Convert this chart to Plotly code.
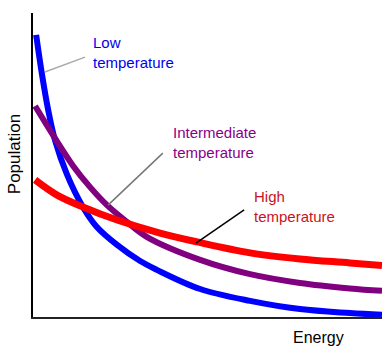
import plotly.graph_objects as go

# Data (arbitrary units; energy on x, population on y)
low_x = [0.09, 0.26, 0.43, 0.63, 0.97, 1.43, 1.83, 2.41, 3.07, 3.55, 4.79, 6.22, 7.65, 9.08, 10.0]
low_y = [9.28, 7.96, 6.84, 5.82, 4.70, 3.62, 2.96, 2.37, 1.84, 1.55, 0.92, 0.53, 0.26, 0.13, 0.07]

mid_x = [0.06, 0.57, 1.15, 1.63, 2.12, 2.69, 3.27, 4.79, 6.22, 7.65, 9.08, 10.0]
mid_y = [6.94, 5.99, 4.97, 4.28, 3.68, 3.13, 2.63, 1.88, 1.41, 1.12, 0.94, 0.86]

high_x = [0.06, 0.69, 1.43, 2.41, 3.64, 4.70, 6.22, 7.65, 9.08, 10.0]
high_y = [4.51, 4.01, 3.62, 3.19, 2.76, 2.47, 2.11, 1.91, 1.78, 1.69]

series_names = ["Low<br>temperature", "Intermediate<br>temperature", "High<br>temperature"]
series_colors = ["#0000FF", "#800080", "#FF0000"]
label_colors = ["#0000EE", "#880088", "#CC1122"]
leader_colors = ["#AAAAAA", "#777777", "#000000"]

# label placement (data coords): left x, vertical centre
label_pos = [(1.68, 8.69), (3.97, 5.73), (6.31, 3.65)]
# leader lines (data coords)
leaders = [
    (0.34, 8.06, 1.49, 8.55),
    (2.15, 3.68, 3.72, 5.39),
    (4.67, 2.43, 6.05, 3.52),
]

FONT = "Arial, Liberation Sans, sans-serif"

fig = go.Figure()
for xs, ys, col, w in [
    (low_x, low_y, series_colors[0], 6),
    (mid_x, mid_y, series_colors[1], 6),
    (high_x, high_y, series_colors[2], 7),
]:
    fig.add_trace(go.Scatter(x=xs, y=ys, mode="lines",
                             line=dict(color=col, width=w, shape="spline", smoothing=1.0),
                             hoverinfo="skip"))

annotations = []
for (lx, ly), name, col in zip(label_pos, series_names, label_colors):
    annotations.append(dict(x=lx, y=ly, xref="x", yref="y", text=name, showarrow=False,
                            xanchor="left", yanchor="middle", align="left", borderpad=0,
                            font=dict(family=FONT, size=15, color=col)))

annotations.append(dict(x=0.817, y=-0.066, xref="paper", yref="paper", text="Energy",
                        showarrow=False, xanchor="center", yanchor="middle",
                        font=dict(family=FONT, size=16, color="#000000")))
annotations.append(dict(x=-0.054, y=0.536, xref="paper", yref="paper", text="Population",
                        showarrow=False, xanchor="center", yanchor="middle", textangle=-90,
                        font=dict(family=FONT, size=17, color="#000000")))

shapes = []
for (x0, y0, x1, y1), col in zip(leaders, leader_colors):
    shapes.append(dict(type="line", x0=x0, y0=y0, x1=x1, y1=y1, xref="x", yref="y",
                       line=dict(color=col, width=1.5)))

fig.update_layout(
    width=386, height=354,
    margin=dict(l=33, r=4, t=13, b=37),
    paper_bgcolor="white", plot_bgcolor="white",
    showlegend=False,
    annotations=annotations,
    shapes=shapes,
    xaxis=dict(range=[0, 10], showgrid=False, zeroline=False, showticklabels=False,
               ticks="", showline=True, linecolor="#222222", linewidth=2, fixedrange=True),
    yaxis=dict(range=[0, 10], showgrid=False, zeroline=False, showticklabels=False,
               ticks="", showline=True, linecolor="#000000", linewidth=2, fixedrange=True),
)

fig.write_html("out.html", config={"displayModeBar": False})
